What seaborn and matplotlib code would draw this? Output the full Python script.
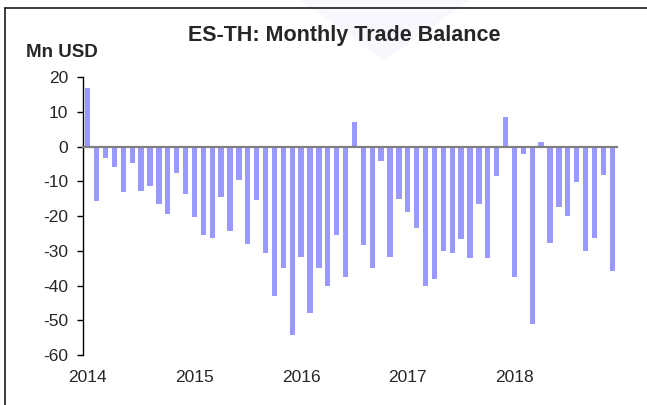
import matplotlib
matplotlib.use("Agg")
import matplotlib.pyplot as plt
from matplotlib.lines import Line2D
from matplotlib.patches import Polygon
import pandas as pd
import seaborn as sns

# Monthly trade balance, Jan 2014 - Dec 2018 (Mn USD)
years = [2014, 2015, 2016, 2017, 2018]
balance_2014 = [17.0, -15.7, -3.3, -5.9, -13.1, -4.6, -12.7, -11.4, -16.4, -19.5, -7.5, -13.5]
balance_2015 = [-20.3, -25.5, -26.2, -14.4, -24.4, -9.6, -28.0, -15.4, -30.7, -43.0, -35.0, -54.2]
balance_2016 = [-31.8, -47.8, -34.9, -40.2, -25.5, -37.5, 7.0, -28.4, -35.0, -4.2, -31.8, -15.1]
balance_2017 = [-18.8, -23.3, -40.0, -38.0, -30.0, -30.6, -26.5, -32.0, -16.6, -32.0, -8.3, 8.7]
balance_2018 = [-37.5, -2.2, -51.1, 1.4, -27.8, -17.5, -20.0, -10.3, -30.0, -26.3, -8.1, -35.7]
y_ticks = [20, 10, 0, -10, -20, -30, -40, -50, -60]

values = balance_2014 + balance_2015 + balance_2016 + balance_2017 + balance_2018
months = [f"{y}-{m:02d}" for y in years for m in range(1, 13)]
df = pd.DataFrame({"month": months, "balance": values})

sns.set_style("white")
plt.rcParams["font.family"] = ["Liberation Sans", "DejaVu Sans"]

fig = plt.figure(figsize=(6.47, 4.05), dpi=100)
fig.patch.set_facecolor("white")

# faint background emblem
fig.add_artist(Polygon([(300 / 647, 1.0), (470 / 647, 1.0), (385 / 647, 1 - 60 / 405)],
                       closed=True, transform=fig.transFigure,
                       facecolor="#f7f7fd", edgecolor="none", zorder=0))

# outer frame (top and left edges)
fig.add_artist(Line2D([5 / 647, 1.0], [1 - 8 / 405, 1 - 8 / 405],
                      transform=fig.transFigure, color="#1a1a1a", linewidth=1.2))
fig.add_artist(Line2D([5 / 647, 5 / 647], [0.0, 1 - 8 / 405],
                      transform=fig.transFigure, color="#1a1a1a", linewidth=1.2))

ax = fig.add_axes([83.3 / 647, 1 - 355 / 405, 533.4 / 647, 277.7 / 405])
ax.set_facecolor("none")

sns.barplot(data=df, x="month", y="balance", color="#9999ff", saturation=1,
            width=0.6, linewidth=0, edgecolor="none", ax=ax, zorder=2)

ax.set_xlim(-0.5, len(values) - 0.5)
ax.set_ylim(-60, 20)
ax.set_yticks(y_ticks)
ax.set_yticklabels([str(t) for t in y_ticks])
ax.set_xlabel("")
ax.set_ylabel("")

for side in ("top", "right"):
    ax.spines[side].set_visible(False)
ax.spines["left"].set_color("black")
ax.spines["left"].set_linewidth(1.0)
ax.spines["bottom"].set_position(("data", 0))
ax.spines["bottom"].set_color("#808080")
ax.spines["bottom"].set_linewidth(1.6)
ax.spines["bottom"].set_zorder(3)

year_edges = [i * 12 - 0.5 for i in range(len(years) + 1)]
ax.set_xticks(year_edges)
ax.set_xticklabels([""] * len(year_edges))
ax.tick_params(axis="x", direction="out", length=3.5, width=1.0, color="#555555")
ax.tick_params(axis="y", direction="out", length=4, width=1.0, color="black",
               labelsize=12.5, pad=7, left=True)

for i, yr in enumerate(years):
    ax.annotate(str(yr), xy=(i * 12, -60), xytext=(0, -16), textcoords="offset points",
                ha="center", va="center", fontsize=12.5)

fig.text(344 / 647, 1 - 35 / 405, "ES-TH: Monthly Trade Balance", ha="center",
         va="center", fontsize=15.5, fontweight="bold")
fig.text(26 / 647, 1 - 52.5 / 405, "Mn USD", ha="left", va="center",
         fontsize=13.5, fontweight="bold")

fig.savefig("out.png", dpi=100, facecolor="white")
